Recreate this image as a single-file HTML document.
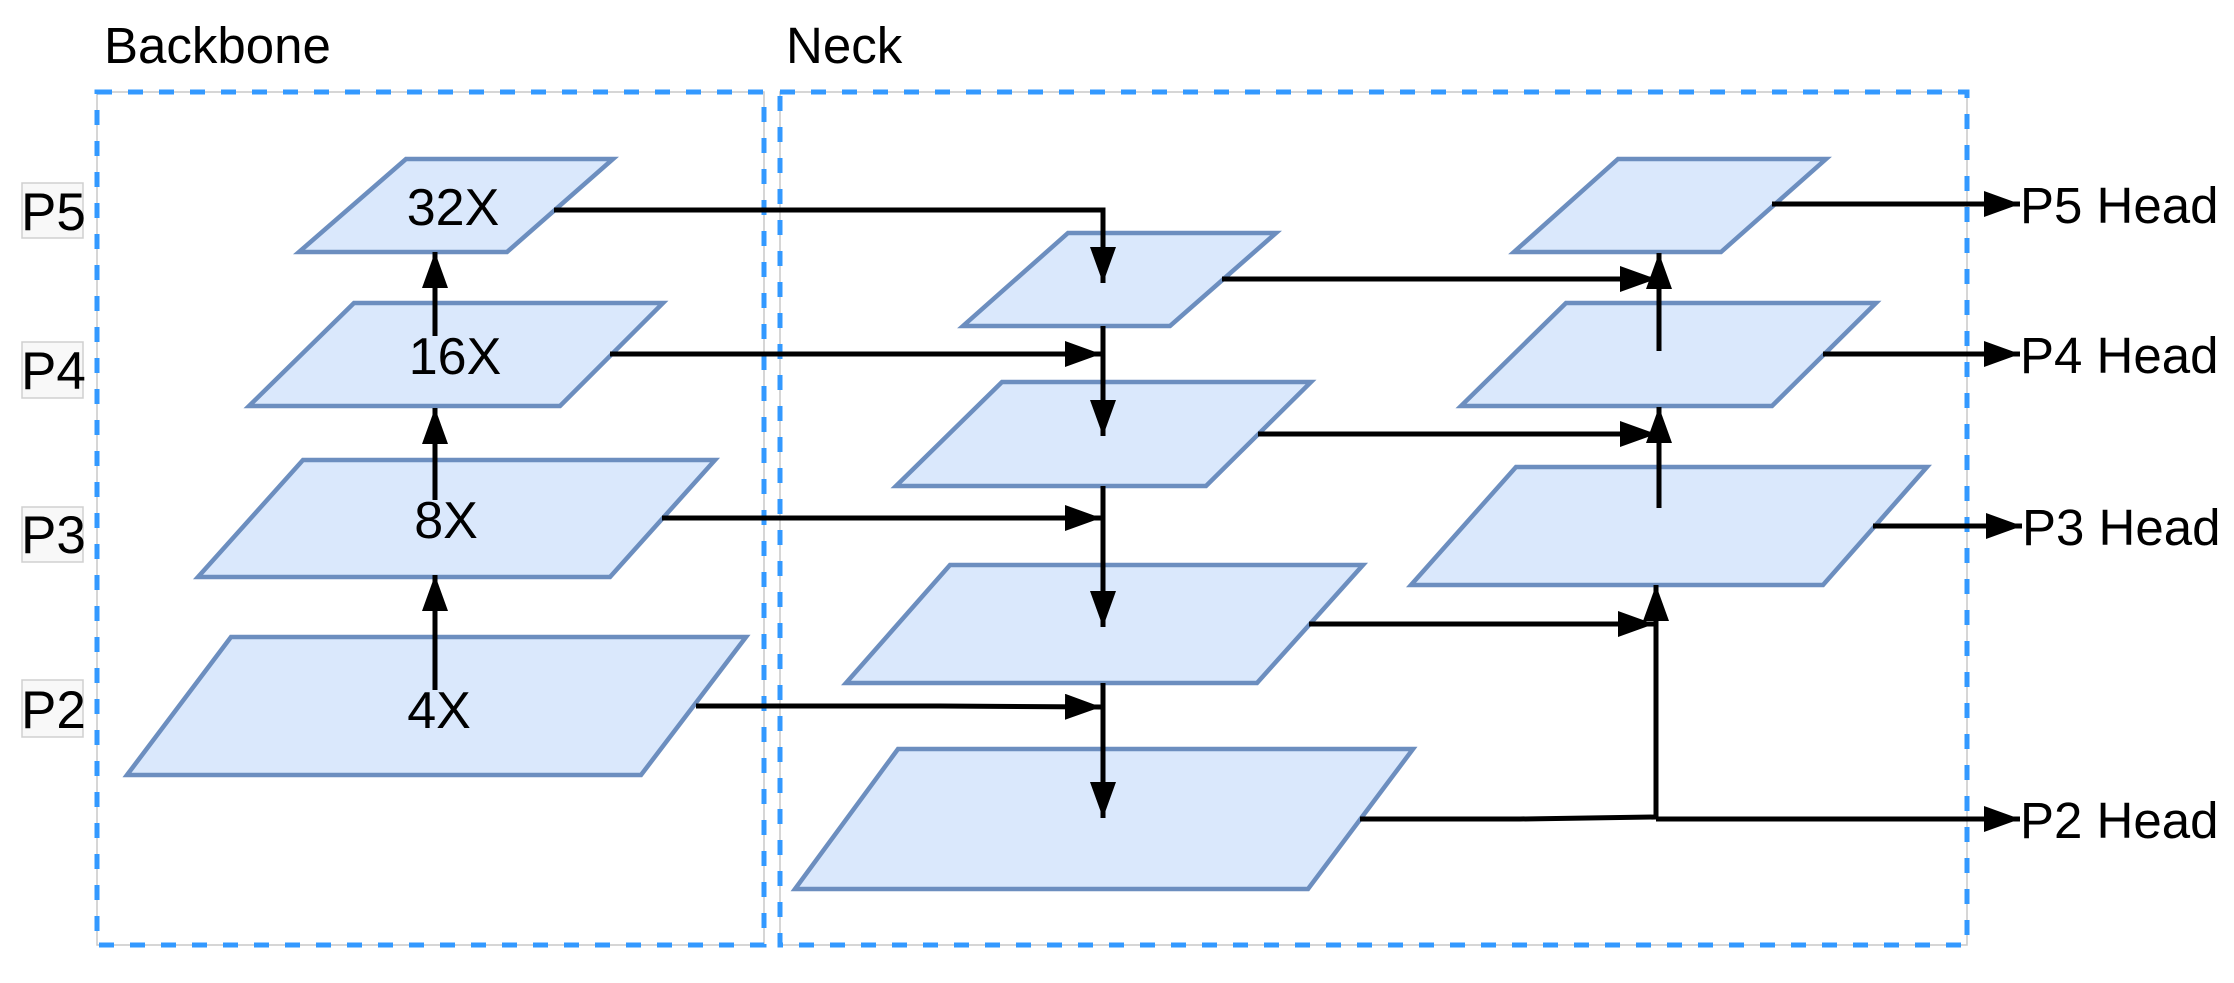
<!DOCTYPE html>
<html><head><meta charset="utf-8"><style>
html,body{margin:0;padding:0;background:#fff;}
svg{display:block;}
text{font-family:"Liberation Sans",Arial,sans-serif;fill:#000;}
</style></head><body>
<svg width="2234" height="983" viewBox="0 0 2234 983" xmlns="http://www.w3.org/2000/svg">
<defs>
<marker id="a" viewBox="0 0 36 26" refX="36" refY="13" markerWidth="36" markerHeight="26" markerUnits="userSpaceOnUse" orient="auto">
<path d="M0,0 L36,13 L0,26 Z" fill="#000"/>
</marker>
</defs>
<rect x="97" y="92" width="667" height="853" fill="none" stroke="#c8c8c8" stroke-width="1.5"/>
<rect x="97" y="92" width="667" height="853" fill="none" stroke="#3399ff" stroke-width="5" stroke-dasharray="15 16"/>
<rect x="780" y="92" width="1187" height="853" fill="none" stroke="#c8c8c8" stroke-width="1.5"/>
<rect x="780" y="92" width="1187" height="853" fill="none" stroke="#3399ff" stroke-width="5" stroke-dasharray="15 16"/>

<text x="104" y="63" font-size="51">Backbone</text>
<text x="786" y="63" font-size="51">Neck</text>

<g fill="#f8f8f8" stroke="#d0d0d0" stroke-width="1.5">
<rect x="22" y="183" width="61" height="55"/>
<rect x="22" y="342" width="61" height="56"/>
<rect x="22" y="507" width="61" height="55"/>
<rect x="22" y="680" width="61" height="57"/>
</g>
<g font-size="53">
<text x="21" y="230">P5</text>
<text x="21" y="389">P4</text>
<text x="21" y="553">P3</text>
<text x="21" y="728">P2</text>
</g>

<g fill="#dae8fc" stroke="#6c8ebf" stroke-width="4.5">
<polygon points="406,159 613,159 507,252 299,252"/>
<polygon points="354,303 663,303 560,406 249,406"/>
<polygon points="303,460 715,460 610,577 198,577"/>
<polygon points="231,637 746,637 641,775 127,775"/>

<polygon points="1068,233 1276,233 1170,326 963,326"/>
<polygon points="1002,382 1311,382 1206,486 896,486"/>
<polygon points="950,565 1363,565 1257,683 846,683"/>
<polygon points="898,749 1413,749 1308,889 795,889"/>

<polygon points="1618,159 1826,159 1721,252 1514,252"/>
<polygon points="1566,303 1876,303 1772,406 1461,406"/>
<polygon points="1516,467 1927,467 1823,585 1411,585"/>
</g>

<g font-size="52" text-anchor="middle">
<text x="453" y="225">32X</text>
<text x="455" y="374">16X</text>
<text x="446" y="538">8X</text>
<text x="439" y="728">4X</text>
</g>

<g stroke="#000" stroke-width="5" fill="none">
<line x1="435" y1="690" x2="435" y2="575" marker-end="url(#a)"/>
<line x1="435" y1="500" x2="435" y2="408" marker-end="url(#a)"/>
<line x1="435" y1="336" x2="435" y2="252" marker-end="url(#a)"/>

<polyline points="554,210 1103,210 1103,283" marker-end="url(#a)"/>
<line x1="610" y1="354" x2="1101" y2="354" marker-end="url(#a)"/>
<line x1="662" y1="518" x2="1101" y2="518" marker-end="url(#a)"/>
<polyline points="696,706 940,706 1101,707" marker-end="url(#a)"/>

<line x1="1103" y1="326" x2="1103" y2="436" marker-end="url(#a)"/>
<line x1="1103" y1="486" x2="1103" y2="627" marker-end="url(#a)"/>
<line x1="1103" y1="683" x2="1103" y2="818" marker-end="url(#a)"/>

<line x1="1222" y1="279" x2="1656" y2="279" marker-end="url(#a)"/>
<line x1="1258" y1="434" x2="1656" y2="434" marker-end="url(#a)"/>
<line x1="1309" y1="624" x2="1654" y2="624" marker-end="url(#a)"/>
<polyline points="1360,819 1520,819 1656,817"/>

<line x1="1659" y1="351" x2="1659" y2="253" marker-end="url(#a)"/>
<line x1="1659" y1="508" x2="1659" y2="407" marker-end="url(#a)"/>
<line x1="1656" y1="818" x2="1656" y2="585" marker-end="url(#a)"/>

<line x1="1772" y1="204" x2="2020" y2="204" marker-end="url(#a)"/>
<line x1="1823" y1="354" x2="2020" y2="354" marker-end="url(#a)"/>
<line x1="1873" y1="526" x2="2022" y2="526" marker-end="url(#a)"/>
<line x1="1656" y1="819" x2="2020" y2="819" marker-end="url(#a)"/>
</g>

<g font-size="51">
<text x="2020" y="223">P5 Head</text>
<text x="2020" y="373">P4 Head</text>
<text x="2022" y="545">P3 Head</text>
<text x="2020" y="838">P2 Head</text>
</g>
</svg>
</body></html>
